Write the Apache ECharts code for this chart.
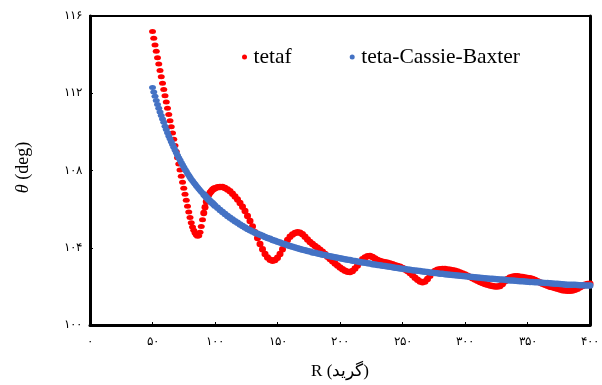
<!DOCTYPE html>
<html>
<head>
<meta charset="utf-8">
<script src="https://cdn.jsdelivr.net/npm/echarts@6/dist/echarts.min.js"></script>
<style>html,body{margin:0;padding:0;background:#fff}#c{width:602px;height:385px}</style>
</head>
<body>
<div id="c"></div>
<script>
var radius = [50,51,52,53,54,55,56,57,58,59,60,61,62,63,64,65,66,67,68,69,70,71,72,73,74,75,76,77,78,79,80,81,82,83,84,85,86,87,88,89,90,
91,92,93,94,95,96,97,98,99,100,
102,104,106,108,110,112,114,116,118,120,122,124,126,128,130,132,134,136,138,140,142,144,146,148,150,
152,154,156,158,160,162,164,166,168,170,172,174,176,178,180,182,184,186,188,190,192,194,196,198,200,202,204,206,208,210,
212,214,216,218,220,222,224,226,228,230,232,234,236,238,240,242,244,246,248,250,252,254,256,258,260,262,264,266,268,270,
272,274,276,278,280,282,284,286,288,290,292,294,296,298,300,302,304,306,308,310,312,314,316,318,320,322,324,326,328,330,
332,334,336,338,340,342,344,346,348,350,352,354,356,358,360,362,364,366,368,370,372,374,376,378,380,382,384,386,388,390,
392,394,396,398,400];

var tetaf = [115.2,114.85,114.5,114.17,113.84,113.51,113.18,112.85,112.52,112.2,111.87,
111.55,111.22,110.9,110.58,110.26,109.94,109.62,109.3,108.98,108.66,
108.34,108.02,107.7,107.39,107.08,106.77,106.46,106.15,105.85,105.56,
105.3,105.08,104.9,104.76,104.66,104.6,104.62,104.8,105.1,105.45,
105.8,106.1,106.38,106.6,106.75,106.85,106.93,107.0,107.05,107.08,
107.13,107.15,107.15,107.1,107.02,
106.92,106.8,106.66,106.5,106.32,106.12,105.9,105.65,105.38,105.1,
104.8,104.5,104.2,103.92,103.68,103.5,103.38,103.33,103.36,103.48,
103.68,103.92,104.17,104.4,104.57,104.69,104.77,104.8,104.78,104.7,
104.57,104.43,104.3,104.19,104.09,104.0,103.9,103.79,103.67,103.54,
103.42,103.3,103.19,103.08,102.98,102.89,102.81,102.76,102.75,102.8,
102.92,103.08,103.25,103.4,103.5,103.56,103.57,103.52,103.44,103.37,
103.32,103.28,103.25,103.22,103.18,103.14,103.1,103.06,103.01,102.95,
102.88,102.79,102.69,102.57,102.45,102.34,102.25,102.21,102.25,102.38,
102.55,102.7,102.8,102.86,102.89,102.9,102.9,102.88,102.86,102.84,
102.81,102.77,102.72,102.67,102.61,102.55,102.49,102.42,102.35,102.29,
102.23,102.17,102.12,102.08,102.05,102.02,102.0,101.99,102.02,102.12,
102.26,102.38,102.46,102.5,102.52,102.52,102.5,102.48,102.46,102.44,
102.42,102.38,102.33,102.27,102.2,102.14,102.08,102.03,101.98,101.95,
101.92,101.88,101.84,101.8,101.78,101.77,101.77,101.78,101.82,101.88,
101.95,102.02,102.08,102.12,102.14];

var tetaCassieBaxter = [112.3,112.06,111.84,111.63,111.42,111.22,111.03,110.85,110.67,110.5,110.29,
110.12,109.95,109.79,109.64,109.49,109.34,109.2,109.06,108.92,108.79,
108.66,108.54,108.42,108.3,108.18,108.07,107.96,107.85,107.75,107.65,
107.55,107.47,107.38,107.3,107.21,107.13,107.06,106.98,106.9,106.83,
106.76,106.69,106.62,106.55,106.48,106.42,106.36,106.3,106.24,106.18,
106.07,105.95,105.85,105.75,105.65,
105.55,105.46,105.37,105.29,105.2,105.12,105.05,104.97,104.9,104.84,
104.78,104.72,104.67,104.62,104.56,104.51,104.46,104.4,104.36,104.31,
104.27,104.22,104.18,104.13,104.09,104.05,104.01,103.97,103.94,103.9,
103.87,103.83,103.8,103.76,103.74,103.7,103.67,103.64,103.62,103.58,
103.56,103.53,103.51,103.48,103.46,103.43,103.4,103.38,103.36,103.33,
103.31,103.29,103.26,103.24,103.22,103.2,103.18,103.15,103.13,103.11,
103.09,103.07,103.05,103.03,103.01,102.99,102.97,102.95,102.93,102.91,
102.9,102.88,102.86,102.84,102.82,102.81,102.79,102.77,102.76,102.74,
102.72,102.71,102.69,102.68,102.66,102.65,102.63,102.62,102.6,102.59,
102.58,102.56,102.55,102.54,102.52,102.51,102.5,102.49,102.47,102.46,
102.45,102.44,102.42,102.41,102.4,102.39,102.38,102.37,102.36,102.35,
102.34,102.32,102.31,102.3,102.29,102.28,102.27,102.26,102.25,102.24,
102.23,102.23,102.22,102.21,102.2,102.19,102.18,102.17,102.16,102.15,
102.14,102.13,102.12,102.11,102.1,102.09,102.09,102.08,102.08,102.07,
102.06,102.06,102.05,102.04,102.04];

var xTickValues = [0,50,100,150,200,250,300,350,400];
var xTickLabels = ['۰','۵۰','۱۰۰','۱۵۰','۲۰۰','۲۵۰','۳۰۰','۳۵۰','۴۰۰'];
var yTickValues = [100,104,108,112,116];
var yTickLabels = ['۱۰۰','۱۰۴','۱۰۸','۱۱۲','۱۱۶'];

var seriesNames = ['tetaf','teta-Cassie-Baxter'];
var xTitle = 'R (گرید)';
var yTitle = 'θ';
var yTitleUnit = ' (deg)';

function pairs(xs, ys){ return xs.map(function(x,i){ return [x, ys[i]]; }); }
function lookup(vals, labs){ return function(v){ var i = vals.indexOf(v); return i < 0 ? '' : labs[i]; }; }
function dotSize(v){ return v[0] <= 90 ? [7,5] : [7,6.5]; }

var serif = '"Liberation Serif","DejaVu Serif",serif';
var chart = echarts.init(document.getElementById('c'), null, {renderer:'canvas'});
chart.setOption({
  animation: false,
  backgroundColor: '#fff',
  grid: {left: 90, right: 11, top: 16, bottom: 59, show: true, borderColor: '#000', borderWidth: 2},
  legend: {
    data: seriesNames, left: 237, top: 41, itemWidth: 8, itemHeight: 5, itemGap: 58, icon: 'circle',
    textStyle: {fontFamily: serif, fontSize: 21.5, color: '#000'}
  },
  xAxis: {
    type: 'value', min: 0, max: 400, interval: 50,
    name: xTitle, nameLocation: 'middle', nameGap: 38,
    nameTextStyle: {fontFamily: serif, fontSize: 17, color: '#000'},
    axisLine: {lineStyle: {color: '#000', width: 3}},
    axisTick: {inside: true, length: 3, lineStyle: {color: '#000', width: 1}},
    axisLabel: {formatter: lookup(xTickValues, xTickLabels), color: '#000', fontSize: 12, margin: 11, fontFamily: serif},
    splitLine: {show: false}
  },
  yAxis: [{
    type: 'value', min: 100, max: 116, interval: 4,
    name: '{i|' + yTitle + '}' + yTitleUnit, nameLocation: 'middle', nameGap: 58, nameRotate: 90,
    nameTextStyle: {fontFamily: serif, fontSize: 18, color: '#000', padding: [0, 0, 0, 6], rich: {i: {fontFamily: serif, fontStyle: 'italic', fontSize: 18, color: '#000'}}},
    axisLine: {show: true, lineStyle: {color: '#000', width: 3}},
    axisTick: {show: true, inside: true, length: 3, lineStyle: {color: '#000', width: 1}},
    axisLabel: {formatter: lookup(yTickValues, yTickLabels), color: '#000', fontSize: 12, margin: 8, fontFamily: serif},
    splitLine: {show: false}
  }, {
    type: 'value', min: 100, max: 116, interval: 4, position: 'right',
    axisLine: {show: true, lineStyle: {color: '#000', width: 3}},
    axisTick: {show: false}, axisLabel: {show: false}, splitLine: {show: false}
  }],
  series: [
    {name: seriesNames[0], type: 'scatter', data: pairs(radius, tetaf), symbol: 'circle', symbolSize: dotSize,
     itemStyle: {color: '#FF0000', opacity: 1}},
    {name: seriesNames[1], type: 'scatter', data: pairs(radius, tetaCassieBaxter), symbol: 'circle', symbolSize: dotSize,
     itemStyle: {color: '#4472C4', opacity: 1}}
  ]
});
</script>
</body>
</html>
